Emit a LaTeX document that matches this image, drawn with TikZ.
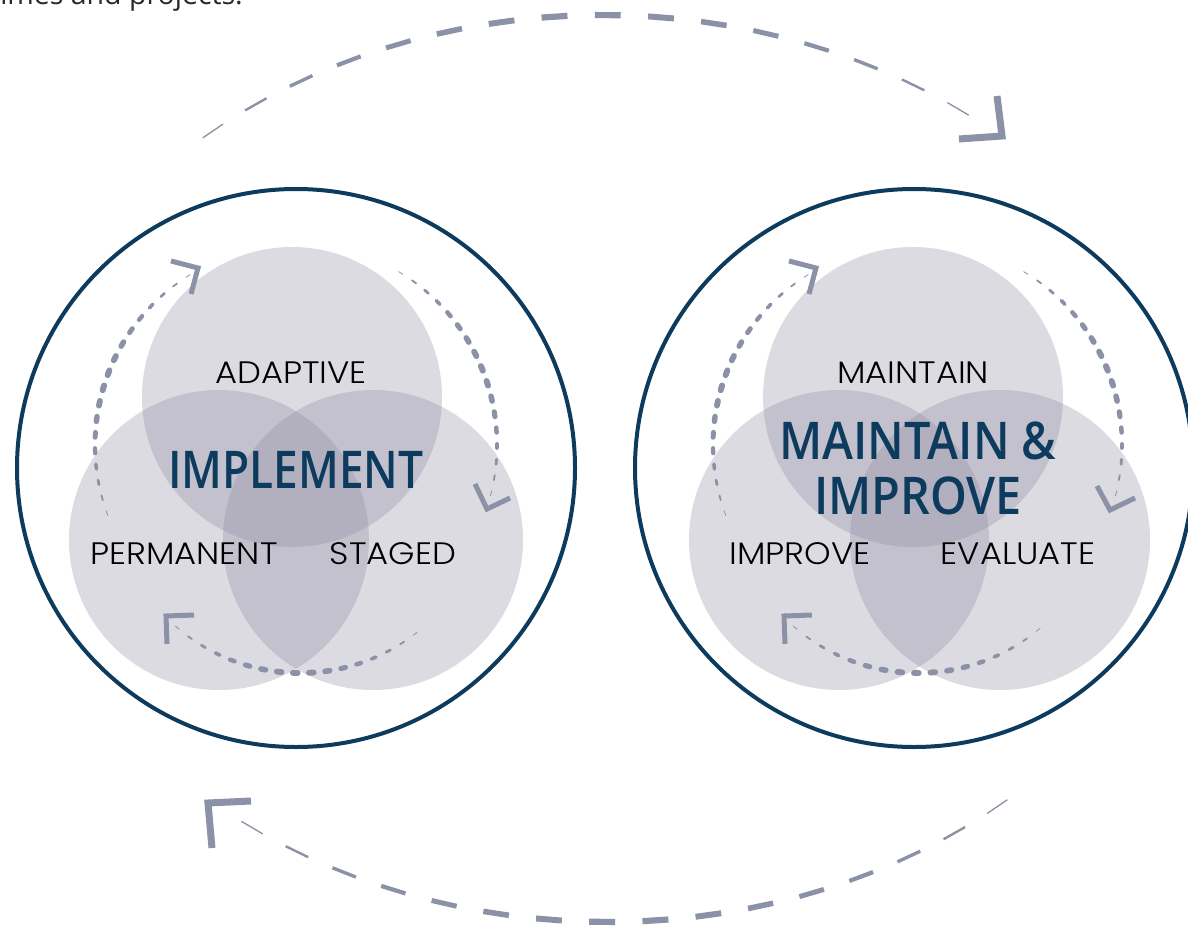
\documentclass[tikz,border=0pt]{standalone}
\usepackage{fontspec}
\usepackage{graphicx}
\setmainfont{Open Sans}
\IfFontExistsTF{Poppins Light}{\newfontfamily\thinfont{Poppins Light}}{\newfontfamily\thinfont{Poppins}}
\IfFontExistsTF{Open Sans SemiBold}%
  {\newfontfamily\heavyfont{Open Sans SemiBold}\newcommand\heavy{\heavyfont}}%
  {\IfFontExistsTF{Open Sans Semibold}%
    {\newfontfamily\heavyfont{Open Sans Semibold}\newcommand\heavy{\heavyfont}}%
    {\newfontfamily\heavyfont{Open Sans}\newcommand\heavy{\heavyfont\bfseries}}}
\definecolor{navy}{RGB}{13,59,94}
\definecolor{arrowgray}{RGB}{139,145,166}
\definecolor{venngray}{RGB}{138,135,158}
\definecolor{bodytext}{RGB}{40,40,40}
\newcommand\widelbl[1]{\scalebox{1.09}[1]{#1}}
\newcommand\narrowlbl[1]{\scalebox{0.85}[1]{#1}}

% dotted tapered arc: cx, cy, r, from, to, n
\newcommand\mydots[6]{%
  \foreach \i in {0,...,#6}{%
    \pgfmathsetmacro\dang{#4+(#5-#4)*\i/#6}%
    \pgfmathsetmacro\dotw{0.8+5.2*sin(180*\i/#6)}%
    \draw[arrowgray, line cap=round, line width=\dotw pt]
      ({#1+#3*cos(\dang-0.7)},{#2-#3*sin(\dang-0.7)}) --
      ({#1+#3*cos(\dang+0.7)},{#2-#3*sin(\dang+0.7)});
  }}

\begin{document}
\begin{tikzpicture}[x=1pt,y=-1pt,
  bigring/.style={circle, draw=navy, line width=4pt, minimum size=558pt, inner sep=0pt},
  venn/.style={circle, fill=venngray, fill opacity=0.3, minimum size=300pt, inner sep=0pt},
  smalllabel/.style={font=\thinfont\fontsize{31}{31}\selectfont, text=black, anchor=base, inner sep=0pt},
  biglabel/.style={font=\heavy\fontsize{52}{55}\selectfont, text=navy, anchor=base, inner sep=0pt},
  chev/.style={draw=arrowgray, line width=5pt, line join=miter},
  bigchev/.style={draw=arrowgray, line width=7pt, line join=miter},
  bigdash/.style={draw=arrowgray}]
\useasboundingbox (0,0) rectangle (1188,931);

% clipped text at the top
\node[anchor=base east, inner sep=0pt, text=bodytext, font=\fontsize{28.5}{28.5}\selectfont] (toptext) at (243,4.5) {mmes and projects.};

% big rings
\node[bigring] (L) at (296,468) {};
\node[bigring] (R) at (914,468) {};

% left venn
\node[venn] (LA) at (292,397) {};
\node[venn] (LB) at (219,540) {};
\node[venn] (LC) at (373,540) {};
% right venn
\node[venn] (RA) at (913,397) {};
\node[venn] (RB) at (839,540) {};
\node[venn] (RC) at (1000,540) {};

% dotted arcs, left venn
\mydots{295}{445}{200}{122.3}{199.9}{17}
\mydots{295}{445}{202}{-13.8}{58.4}{16}
\mydots{300}{484}{189}{-130.5}{-52.4}{16}
\draw[chev] (171,261) -- (198,268) -- (191,294);
\draw[chev] (475,484) -- (487,509) -- (510,498);
\draw[chev] (194,615) -- (166,616) -- (167,644);

% dotted arcs, right venn
\mydots{913}{445}{200}{122.3}{199.9}{17}
\mydots{920}{445}{202}{-13.8}{58.4}{16}
\mydots{918}{484}{189}{-130.5}{-50.5}{16}
\draw[chev] (789,261) -- (816,268) -- (809,294);
\draw[chev] (1097,486) -- (1110,510) -- (1135,498);
\draw[chev] (812,615) -- (784,616) -- (785,644);

% labels
\node[smalllabel] (tA) at (291,383) {\widelbl{ADAPTIVE}};
\node[smalllabel] (tB) at (184,564) {\widelbl{PERMANENT}};
\node[smalllabel] (tC) at (393,564) {\widelbl{STAGED}};
\node[biglabel] (tL) at (296,488) {\narrowlbl{IMPLEMENT}};

\node[smalllabel] (uA) at (913,383) {\widelbl{MAINTAIN}};
\node[smalllabel] (uB) at (800,564) {\widelbl{IMPROVE}};
\node[smalllabel] (uC) at (1018,564) {\widelbl{EVALUATE}};
\node[biglabel] (tR) at (918,459) {\scalebox{0.9}[1]{\begin{tabular}[t]{@{}c@{}}MAINTAIN \&\\IMPROVE\end{tabular}}};

% big dashed arcs
\foreach \i in {0,...,15}{%
  \pgfmathsetmacro\ta{130.2-4.93*\i}%
  \pgfmathsetmacro\tb{\ta-2.4}%
  \pgfmathsetmacro\dw{0.8+5.4*sin(180*(\i+0.5)/16)}%
  \draw[bigdash, line width=\dw pt] ({603+620*cos(\ta)},{535-520*sin(\ta)}) -- ({603+620*cos(\tb)},{535-520*sin(\tb)});
}
\draw[bigchev] (997,96) -- (1002,136) -- (959,139);

\foreach \i in {0,...,15}{%
  \pgfmathsetmacro\ta{49.9+4.93*\i}%
  \pgfmathsetmacro\tb{\ta+2.4}%
  \pgfmathsetmacro\dw{0.8+5.4*sin(180*(\i+0.5)/16)}%
  \draw[bigdash, line width=\dw pt] ({608+620*cos(\ta)},{402+520*sin(\ta)}) -- ({608+620*cos(\tb)},{402+520*sin(\tb)});
}
\draw[bigchev] (251,801) -- (208,803) -- (212,848);
\end{tikzpicture}
\end{document}
